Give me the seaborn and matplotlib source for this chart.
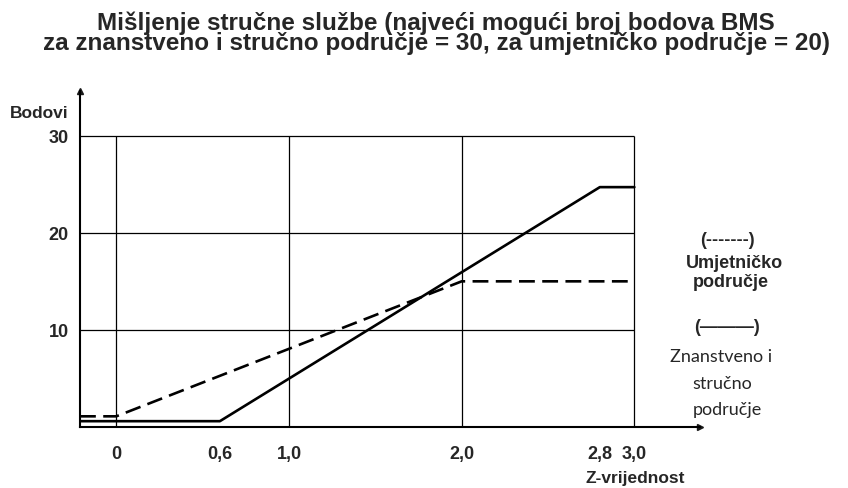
import numpy as np
import pandas as pd
import seaborn as sns
import matplotlib.pyplot as plt

# Z-vrijednost vs. bodovi for both fields
znan_x = [-0.21, 0.6, 2.8, 3.0]
znan_y = [0.6, 0.6, 24.7, 24.7]
umj_x = [-0.21, 0.0, 2.0, 3.0]
umj_y = [1.1, 1.1, 15.0, 15.0]

grid_x = [0, 1, 2, 3]
grid_y = [10, 20, 30]
xtick_vals = [0, 0.6, 1.0, 2.0, 2.8, 3.0]
xtick_labels = ["0", "0,6", "1,0", "2,0", "2,8", "3,0"]
ytick_vals = [10, 20, 30]
ytick_labels = ["10", "20", "30"]

df = pd.DataFrame({
    "z": znan_x + umj_x,
    "bodovi": znan_y + umj_y,
    "podrucje": ["znan"] * len(znan_x) + ["umj"] * len(umj_x),
})

sns.set_theme(style="white")
arial = ["Liberation Sans", "DejaVu Sans"]
calibri = ["Lato", "DejaVu Sans"]
plt.rcParams["font.family"] = arial

fig = plt.figure(figsize=(8.48, 4.89), dpi=100)
ax = fig.add_axes([80 / 848, 1 - 428 / 489, 620 / 848, 336 / 489])
ax.set_xlim(-0.21, 3.38)
ax.set_ylim(0, 34.6)

# grid
ax.vlines(grid_x, 0, 30, color="black", lw=0.9)
ax.hlines(grid_y, -0.21, 3.0, color="black", lw=0.9)

sns.lineplot(data=df, x="z", y="bodovi", style="podrucje", ax=ax,
             dashes={"znan": "", "umj": (6, 2.8)}, color="black",
             lw=1.9, estimator=None, legend=False)

# axes with arrows
for s in ["top", "right"]:
    ax.spines[s].set_visible(False)
for s in ["left", "bottom"]:
    ax.spines[s].set_color("black")
    ax.spines[s].set_linewidth(1.5)
ax.plot(1, 0, ">k", ms=5, transform=ax.transAxes, clip_on=False)
ax.plot(0, 1, "^k", ms=5, transform=ax.transAxes, clip_on=False)

ax.set_xticks(xtick_vals)
ax.set_xticklabels(xtick_labels, fontweight="bold", fontsize=13)
ax.set_yticks(ytick_vals)
ax.set_yticklabels(ytick_labels, fontweight="bold", fontsize=13)
ax.tick_params(axis="x", length=0, pad=13)
ax.tick_params(axis="y", length=0, pad=8)
ax.set_xlabel("")
ax.set_ylabel("")

fig.text(10 / 848, 1 - 113 / 489, "Bodovi", fontweight="bold",
         fontsize=12.5, va="center", ha="left")
fig.text(635 / 848, 1 - 479 / 489, "Z-vrijednost", fontweight="bold",
         fontsize=12.5, va="center", ha="center")

title = ("Mišljenje stručne službe (najveći mogući broj bodova BMS\n"
         "za znanstveno i stručno područje = 30, za umjetničko područje = 20)")
fig.text(436 / 848, 1 - 50 / 489, title, fontsize=17.5, fontweight="bold",
         ha="center", va="baseline", multialignment="center", linespacing=0.82)

# right-hand key
key = [
    (727, 241, "(-------)", arial, "bold"),
    (734, 263, "Umjetničko", arial, "bold"),
    (731, 283, "područje", arial, "bold"),
    (727, 328, "(———)", arial, "bold"),
    (721, 357, "Znanstveno i", calibri, "normal"),
    (722, 384, "stručno", calibri, "normal"),
    (727, 410, "područje", calibri, "normal"),
]
for px, py, txt, fam, wt in key:
    fig.text(px / 848, 1 - py / 489, txt, family=fam, fontweight=wt, fontsize=13,
             ha="center", va="center")

fig.savefig("out.png", dpi=100)
